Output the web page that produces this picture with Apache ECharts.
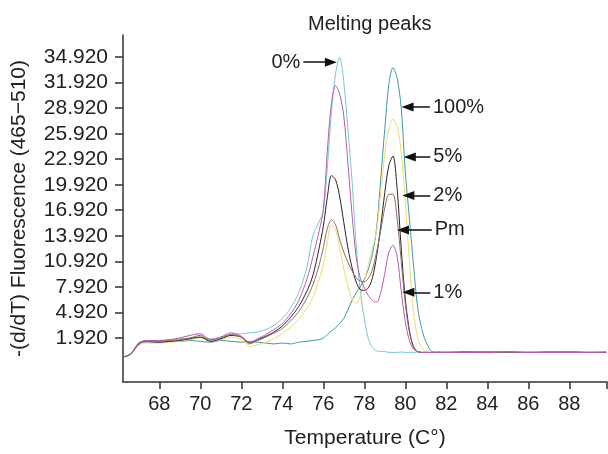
<!DOCTYPE html>
<html>
<head>
<meta charset="utf-8">
<script src="https://cdn.jsdelivr.net/npm/echarts@6/dist/echarts.min.js"></script>
<style>html,body{margin:0;padding:0;background:#fff}#c{width:608px;height:454px}</style>
</head>
<body>
<div id="c"></div>
<script>
const temps = [66.3,66.6,67.0,67.3,68.0,68.5,69.0,69.5,70.0,70.5,71.0,71.5,72.0,72.4,72.8,73.2,73.6,74.0,74.4,74.8,75.2,75.5,75.8,76.0,76.2,76.4,76.6,76.8,77.0,77.2,77.4,77.6,77.8,78.0,78.2,78.4,78.6,78.8,79.0,79.2,79.4,79.6,79.8,80.0,80.2,80.4,80.6,80.8,81.0,81.3,81.6,82.0,83.0,84.0,85.0,86.0,87.0,88.0,89.0,89.8];

const pct0 = [-0.3,0.0,1.2,1.6,1.6,1.7,1.8,1.9,2.0,1.8,2.0,2.3,2.4,2.5,2.6,2.9,3.4,4.2,5.4,7.2,10.2,14.0,15.6,16.8,22.0,28.5,33.0,34.9,32.0,26.5,20.5,13.0,7.5,4.2,1.8,0.8,0.4,0.3,0.3,0.2,0.2,0.2,0.25,0.2,0.2,0.2,0.25,0.2,0.2,0.2,0.2,0.25,0.2,0.15,0.25,0.2,0.3,0.2,0.2,0.25];
const pct100 = [-0.3,0.0,1.1,1.4,1.4,1.5,1.5,1.6,1.5,1.4,1.6,1.5,1.4,1.5,1.4,1.3,1.2,1.3,1.2,1.4,1.5,1.6,1.7,1.9,2.3,2.7,3.1,3.6,4.2,5.2,6.3,7.2,7.9,8.8,10.0,11.8,14.8,20.5,26.5,31.8,33.7,32.5,29.0,21.5,16.0,10.5,5.5,3.0,1.5,0.3,0.2,0.2,0.2,0.2,0.25,0.2,0.2,0.2,0.2,0.2];
const pct5 = [-0.3,0.0,1.0,1.3,1.3,1.4,1.5,1.7,1.9,1.5,1.7,2.0,1.7,0.9,1.1,1.4,1.8,2.4,3.2,4.1,5.4,6.7,8.8,10.5,13.2,15.2,14.6,12.5,10.0,8.0,6.5,5.9,6.8,8.5,10.5,12.5,14.5,19.0,23.5,26.5,27.6,26.8,23.8,18.0,11.0,5.0,2.0,0.8,0.3,0.2,0.2,0.2,0.25,0.2,0.2,0.3,0.2,0.2,0.25,0.2];
const pct2 = [-0.3,0.0,1.3,1.5,1.4,1.5,1.6,1.8,2.0,1.5,1.8,2.2,2.0,1.3,1.7,2.1,2.6,3.3,4.3,5.6,7.4,9.3,12.5,15.0,18.5,21.0,20.5,18.5,15.5,12.5,10.2,8.5,7.6,7.5,7.8,9.0,11.5,15.0,19.0,22.2,23.3,19.5,12.5,6.5,2.8,0.9,0.3,0.2,0.2,0.2,0.2,0.2,0.2,0.25,0.2,0.2,0.2,0.25,0.2,0.2];
const pm = [-0.3,0.0,1.2,1.5,1.5,1.6,1.7,1.9,2.2,1.6,1.9,2.3,2.0,1.2,1.6,2.0,2.5,3.0,3.9,5.0,6.6,8.2,10.5,12.5,14.8,15.8,15.2,13.5,12.0,10.8,9.8,9.0,8.6,8.5,8.9,10.0,12.0,14.5,17.2,18.8,18.8,16.0,11.0,6.0,2.6,0.8,0.3,0.2,0.2,0.2,0.2,0.2,0.3,0.2,0.2,0.2,0.25,0.2,0.2,0.2];
const pct1 = [-0.3,0.0,1.2,1.6,1.6,1.7,1.9,2.2,2.4,1.7,2.0,2.5,2.1,1.4,1.8,2.3,2.9,3.6,4.7,6.3,8.8,11.5,14.5,17.0,24.0,29.5,31.6,30.6,28.0,22.5,16.5,11.5,9.0,7.8,6.9,6.3,6.1,7.2,9.5,12.0,12.8,11.5,7.5,3.8,1.6,0.6,0.3,0.2,0.2,0.2,0.25,0.2,0.2,0.2,0.3,0.2,0.2,0.2,0.2,0.25];

const seriesNames = ['0%','100%','5%','2%','Pm','1%'];
const seriesColors = ['#7cc6cf','#3f9aa6','#f0dc6c','#2b2222','#8d6e66','#b85bb0'];
const seriesValues = [pct0,pct100,pct5,pct2,pm,pct1];

const yTicks = [1.92,4.92,7.92,10.92,13.92,16.92,19.92,22.92,25.92,28.92,31.92,34.92];
const xTicks = [68,70,72,74,76,78,80,82,84,86,88];

// annotation arrows: label, tail temperature, tip temperature, value
const annLabels = ['0%','100%','5%','2%','Pm','1%'];
const annTail = [75.03,81.20,81.22,81.22,81.29,81.22];
const annTip  = [76.65,79.83,79.94,79.87,79.61,79.87];
const annVal  = [34.33,29.05,23.19,18.65,14.60,7.27];

const FONT = 'Liberation Sans, Arial, Helvetica, sans-serif';
const headT = 0.28;

const annData = annLabels.map((l,i)=>{
  const dir = annTip[i] > annTail[i] ? 1 : -1;
  return [
    {coord:[annTail[i], annVal[i]], name:l},
    {coord:[annTip[i] - dir*headT, annVal[i]]}
  ];
});

const series = seriesValues.map((vals,k)=>({
  name: seriesNames[k],
  type:'line',
  data: temps.map((t,i)=>[t, vals[i]]),
  symbol:'none',
  smooth:0.3,
  lineStyle:{width:1, color:seriesColors[k]},
  itemStyle:{color:seriesColors[k]},
  silent:true
}));
series.push({
  type:'line', data:[], symbol:'none',
  markLine:{
    silent:true, animation:false,
    symbol:['none','path://M5,0L10,12L0,12Z'],
    symbolSize:[9,12],
    lineStyle:{color:'#111', width:1.5, type:'solid'},
    itemStyle:{color:'#111'},
    label:{show:true, position:'start', formatter:'{b}', fontSize:20, fontFamily:FONT, color:'#222', distance:3},
    emphasis:{disabled:true},
    data: annData
  }
});

const chart = echarts.init(document.getElementById('c'), null, {renderer:'canvas'});
chart.setOption({
  animation:false,
  backgroundColor:'#fff',
  title:{text:'Melting peaks', left:303, top:9, textStyle:{fontSize:20, fontWeight:'normal', color:'#222', fontFamily:FONT}},
  grid:{left:123, right:1, top:35, bottom:66, containLabel:false},
  xAxis:{
    type:'value', min:66.23, max:89.84,
    name:'Temperature (C°)', nameLocation:'middle', nameGap:46,
    nameTextStyle:{fontSize:21, color:'#222', fontFamily:FONT},
    axisLine:{show:true, onZero:false, lineStyle:{color:'#333', width:1.5}},
    axisTick:{show:true, length:7, inside:false, customValues:xTicks.concat([89.84]), lineStyle:{color:'#333', width:1.5}},
    axisLabel:{customValues:xTicks, fontSize:20, color:'#222', fontFamily:FONT, margin:12},
    splitLine:{show:false}
  },
  yAxis:{
    type:'value', min:-3.28, max:37.53,
    name:'-(d/dT) Fluorescence (465\u2212510)', nameLocation:'middle', nameGap:93, nameRotate:90,
    nameTextStyle:{fontSize:21, color:'#222', fontFamily:FONT},
    axisLine:{show:true, onZero:false, lineStyle:{color:'#333', width:1.5}},
    axisTick:{show:true, length:8, customValues:yTicks, lineStyle:{color:'#333', width:1.5}},
    axisLabel:{customValues:yTicks, fontSize:21, color:'#222', fontFamily:FONT, margin:15, formatter:v=>v.toFixed(3)},
    splitLine:{show:false}
  },
  series: series
});
</script>
</body>
</html>
